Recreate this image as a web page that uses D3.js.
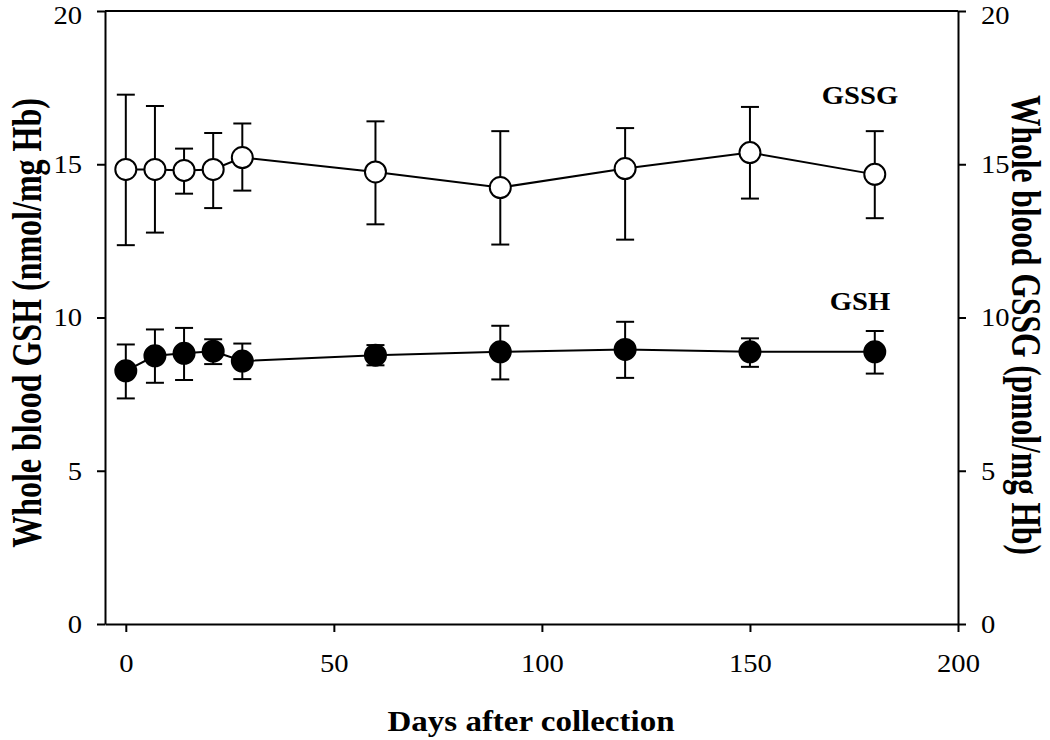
<!DOCTYPE html>
<html>
<head>
<meta charset="utf-8">
<script src="https://cdn.jsdelivr.net/npm/d3@7"></script>
<style>
  html, body { margin: 0; padding: 0; background: #fff; }
  svg text { font-family: "Liberation Serif", "Times New Roman", serif; fill: #000; }
</style>
</head>
<body>
<svg id="chart" width="1050" height="740"></svg>
<script>
// ---- data ----
const days = [0, 7, 14, 21, 28, 60, 90, 120, 150, 180];
const gsh      = [8.26, 8.75, 8.83, 8.90, 8.58, 8.77, 8.88, 8.96, 8.88, 8.88];
const gshHigh  = [9.12, 9.61, 9.66, 9.29, 9.15, 9.10, 9.73, 9.86, 9.32, 9.56];
const gshLow   = [7.36, 7.87, 7.96, 8.48, 7.99, 8.44, 7.98, 8.03, 8.39, 8.17];
const gssg     = [14.83, 14.83, 14.80, 14.83, 15.22, 14.75, 14.24, 14.86, 15.38, 14.67];
const gssgHigh = [17.27, 16.90, 15.51, 16.02, 16.33, 16.40, 16.08, 16.18, 16.87, 16.08];
const gssgLow  = [12.36, 12.77, 14.04, 13.57, 14.14, 13.04, 12.38, 12.54, 13.88, 13.24];
const xTicks = [0, 50, 100, 150, 200];
const yTicks = [0, 5, 10, 15, 20];
const xTitle = "Days after collection";
const yLeftTitle = "Whole blood GSH (nmol/mg Hb)";
const yRightTitle = "Whole blood GSSG (pmol/mg Hb)";

// ---- layout ----
const svg = d3.select("#chart");
const pL = 105, pR = 958, pT = 11, pB = 624;
const x = d3.scaleLinear().domain([-5, 200]).range([pL, pR]);
const y = d3.scaleLinear().domain([0, 20]).range([pB, pT]);
const y2 = d3.scaleLinear().domain([0, 20]).range([pB, pT]);

const axisStroke = 2;
const tickStretch = 1.1;
function styleAxis(g, fs) {
  g.select(".domain").attr("stroke", "#000").attr("stroke-width", axisStroke);
  g.selectAll(".tick line").attr("stroke", "#000").attr("stroke-width", axisStroke);
  g.selectAll(".tick text").attr("font-size", fs).attr("font-family", "Liberation Serif, serif").attr("fill", "#000")
    .each(function () {
      const t = d3.select(this);
      const xa = +t.attr("x") || 0;
      t.attr("x", xa / tickStretch).attr("transform", `scale(${tickStretch},1)`);
    });
}

// frame top line
svg.append("line")
  .attr("x1", pL).attr("x2", pR).attr("y1", pT).attr("y2", pT)
  .attr("stroke", "#000").attr("stroke-width", axisStroke);

const gx = svg.append("g").attr("transform", `translate(0,${pB})`)
  .call(d3.axisBottom(x).tickValues(xTicks).tickSize(8).tickSizeOuter(0).tickPadding(22));
styleAxis(gx, 26);

const gy = svg.append("g").attr("transform", `translate(${pL},0)`)
  .call(d3.axisLeft(y).tickValues(yTicks).tickSize(8).tickSizeOuter(0).tickPadding(15));
styleAxis(gy, 26);
gy.selectAll(".tick text").filter(d => d === 20).attr("dy", "0.48em");

const gy2 = svg.append("g").attr("transform", `translate(${pR},0)`)
  .call(d3.axisRight(y2).tickValues(yTicks).tickSize(8).tickSizeOuter(0).tickPadding(15));
styleAxis(gy2, 26);
gy2.selectAll(".tick text").filter(d => d === 20).attr("dy", "0.48em");

// ---- series ----
const r = 10.5, cap = 9, lw = 2;
function drawSeries(vals, hi, lo, fill, yS) {
  const data = days.map((d, i) => ({d, v: vals[i], hi: hi[i], lo: lo[i]}));
  const g = svg.append("g");
  g.selectAll("line.err").data(data).enter().append("line")
    .attr("x1", p => x(p.d)).attr("x2", p => x(p.d))
    .attr("y1", p => yS(p.hi)).attr("y2", p => yS(p.lo))
    .attr("stroke", "#000").attr("stroke-width", lw);
  g.selectAll("line.capt").data(data).enter().append("line")
    .attr("x1", p => x(p.d) - cap).attr("x2", p => x(p.d) + cap)
    .attr("y1", p => yS(p.hi)).attr("y2", p => yS(p.hi))
    .attr("stroke", "#000").attr("stroke-width", lw);
  g.selectAll("line.capb").data(data).enter().append("line")
    .attr("x1", p => x(p.d) - cap).attr("x2", p => x(p.d) + cap)
    .attr("y1", p => yS(p.lo)).attr("y2", p => yS(p.lo))
    .attr("stroke", "#000").attr("stroke-width", lw);
  g.append("path").datum(data)
    .attr("d", d3.line().x(p => x(p.d)).y(p => yS(p.v)))
    .attr("fill", "none").attr("stroke", "#000").attr("stroke-width", lw);
  g.selectAll("circle").data(data).enter().append("circle")
    .attr("cx", p => x(p.d)).attr("cy", p => yS(p.v)).attr("r", r)
    .attr("fill", fill).attr("stroke", "#000").attr("stroke-width", lw);
}
drawSeries(gssg, gssgHigh, gssgLow, "#fff", y2);
drawSeries(gsh, gshHigh, gshLow, "#000", y);

// ---- labels ----
svg.append("text").attr("transform", "translate(860,104) scale(1.1,1)").attr("text-anchor", "middle")
  .attr("font-size", 26).attr("font-weight", "bold").text("GSSG");
svg.append("text").attr("transform", "translate(860,310) scale(1.1,1)").attr("text-anchor", "middle")
  .attr("font-size", 26).attr("font-weight", "bold").text("GSH");

svg.append("text").attr("transform", "translate(531,731) scale(1.1,1)").attr("text-anchor", "middle")
  .attr("font-size", 30).attr("font-weight", "bold").text(xTitle);

svg.append("text").attr("transform", "translate(41,323) rotate(-90) scale(1,1.35)")
  .attr("text-anchor", "middle").attr("font-size", 32).attr("font-weight", "bold").text(yLeftTitle);

svg.append("text").attr("transform", "translate(1012,325) rotate(90) scale(1,1.35)")
  .attr("text-anchor", "middle").attr("font-size", 31.5).attr("font-weight", "bold").text(yRightTitle);
</script>
</body>
</html>
